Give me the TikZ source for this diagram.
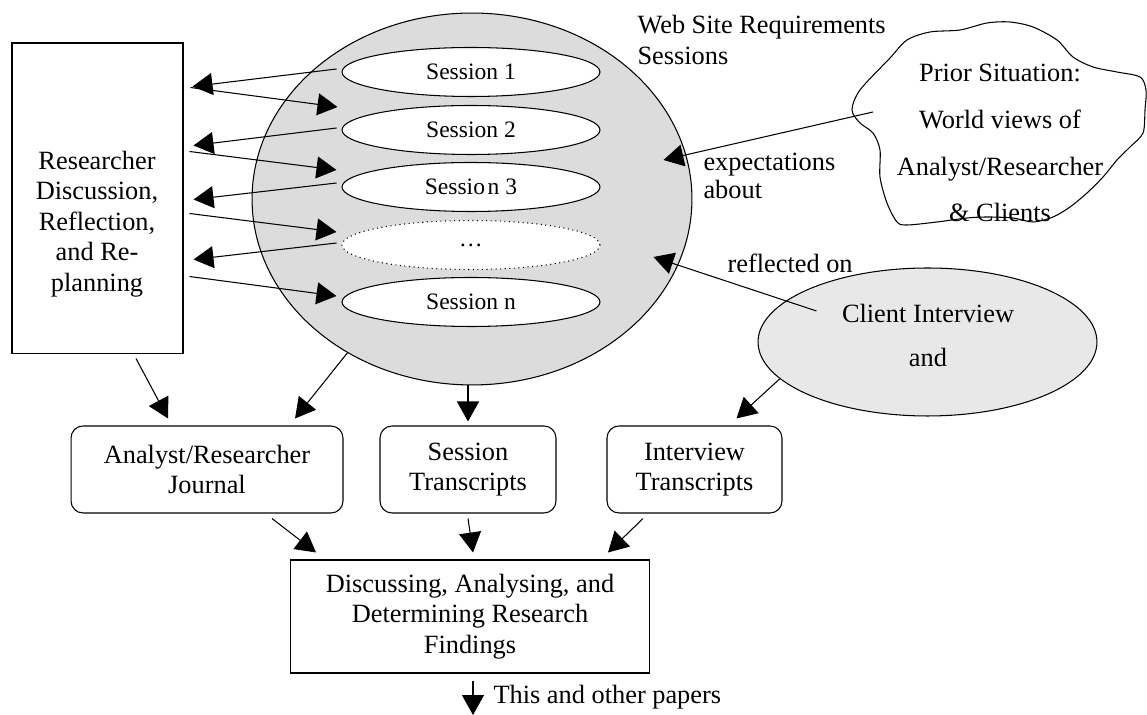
\documentclass[tikz,border=0pt]{standalone}
\usepackage{fontspec}
\setmainfont{Liberation Serif}
\usetikzlibrary{arrows.meta,positioning,shapes.geometric,calc}
\definecolor{webgray}{RGB}{220,220,220}
\definecolor{clientgray}{RGB}{232,232,232}

\begin{document}
\begin{tikzpicture}[x=0.02cm,y=-0.02cm,line width=0.6pt,
   font=\fontsize{15}{17.4}\selectfont,
   arr/.style={-{Triangle[length=4mm,width=4.4mm]}},
   plainbox/.style={draw,minimum height=1.74cm,align=center,inner sep=2pt},
   roundbox/.style={plainbox,rounded corners=0.24cm},
   sess/.style={draw,ellipse,fill=white,minimum width=5.16cm,minimum height=0.98cm,
                inner sep=0pt,font=\fontsize{13.4}{15}\selectfont},
   note/.style={anchor=west,align=left,inner sep=0pt}]
  \useasboundingbox (0,0) rectangle (1147,715);

  % left box
  \node[plainbox,minimum width=3.42cm,minimum height=6.22cm] (reflect) at (97.5,198.5) {};
  \node[align=center,inner sep=0pt] (reflecttxt) at (97,224)
       {Researcher\\Discussion,\\Reflection,\\and Re-\\planning};

  % sessions
  \node[draw,ellipse,fill=webgray,minimum width=8.8cm,minimum height=7.44cm] (web) at (472,199) {};
  \node[sess] (s1) at (471,72) {Session 1};
  \node[sess] (s2) at (471,130) {Session 2};
  \node[sess] (s3) at (471,187) {Sessio\kern1.5pt n 3};
  \node[sess,dotted] (dots) at (471,245) {\dots};
  \node[sess] (sn) at (471,302) {Session n};
  \node[note] (webtitle) at (637,40) {Web Site Requirements\\Sessions};

  \draw[arr] ($(s1.west)+(-5,-3)$) -- ($(reflect.north east)+(9,44)$);
  \draw[arr] ($(reflect.north east)+(7,45)$) -- ($(s2.west)+(-4,-23)$);
  \draw[arr] ($(s2.west)+(-5,-2)$) -- ($(reflect.north east)+(10,103)$);
  \draw[arr] ($(reflect.north east)+(6,109)$) -- ($(s3.west)+(-5,-17)$);
  \draw[arr] ($(s3.west)+(-5,-4)$) -- ($(reflect.north east)+(10,157)$);
  \draw[arr] ($(reflect.north east)+(6,171)$) -- ($(dots.west)+(-5,-13)$);
  \draw[arr] ($(dots.west)+(-5,-2)$) -- ($(reflect.north east)+(10,217)$);
  \draw[arr] ($(reflect.north east)+(6,234)$) -- ($(sn.west)+(-5,-6)$);

  % prior situation cloud
  \draw plot[smooth cycle,tension=0.5] coordinates {(852,110) (860,90) (890,58) (907,40)
     (930,32) (960,30) (987,23) (1010,22) (1033,27) (1057,40) (1073,57) (1093,67)
     (1117,72) (1140,77) (1146,90) (1145,110) (1143,133) (1130,147) (1117,160)
     (1103,177) (1087,193) (1070,207) (1053,217) (1033,222) (1013,218) (987,217)
     (967,218) (937,222) (907,225) (897,222) (887,203) (880,177) (880,150) (873,133)
     (860,123)};
  \node[align=center,inner sep=0pt,font=\fontsize{15}{26.7}\selectfont] (prior) at (1000,143)
       {Prior Situation:\\World views of\\Analyst/Researcher\\\& Clients};
  \coordinate (expstart) at (873,112);
  \draw[arr] (expstart) -- ($(web.east)+(-29,-39)$);
  \node[note,font=\fontsize{15}{16}\selectfont] (expect) at (703,176) {expectations\\about};

  % client interview
  \node[draw,ellipse,fill=clientgray,minimum width=6.78cm,minimum height=2.96cm] (client)
       at (927.5,342) {};
  \node[align=center,inner sep=0pt,font=\fontsize{15}{25.5}\selectfont] (clienttxt)
       at (928,335.5) {Client Interview\\and};
  \draw[arr] ($(client.center)+(-111,-31)$) -- ($(web.east)+(-39,58)$);
  \node[note] (reflon) at (727,263) {reflected on};

  % transcripts
  \node[roundbox,minimum width=5.44cm] (journal) at (207,469.5) {Analyst/Researcher\\Journal};
  \node[roundbox,minimum width=3.52cm] (sesst) at (468,469.5) {Session\\Transcripts};
  \node[roundbox,minimum width=3.5cm] (interview) at (694.5,469.5) {Interview\\Transcripts};
  \draw[arr] ($(reflect.south)+(38.5,4)$) -- ($(journal.north)+(-39,-7)$);
  \draw[arr] (web.231) -- ($(journal.north)+(88,-7)$);
  \draw[arr] (sesst.north |- web.south) -- ($(sesst.north)+(0,-4)$);
  \draw[arr] (client.194) -- ($(interview.north)+(42,-7)$);

  % findings
  \node[plainbox,minimum width=7.2cm,minimum height=2.26cm] (find) at (470,616.5)
       {Discussing, Analysing, and\\Determining Research\\Findings};
  \draw[arr] ($(journal.south)+(65,5)$) -- ($(find.north)+(-154,-7)$);
  \draw[arr] ($(sesst.south)+(0,5)$) -- ($(find.north)+(3,-7)$);
  \draw[arr] ($(interview.south)+(-51.5,5)$) -- ($(find.north)+(138,-7)$);
  \coordinate (papers) at (473,715);
  \draw[arr] ($(find.south)+(3,7)$) -- (papers);
  \node[note] (paperstxt) at (493,697) {This and other papers};
\end{tikzpicture}
\end{document}
